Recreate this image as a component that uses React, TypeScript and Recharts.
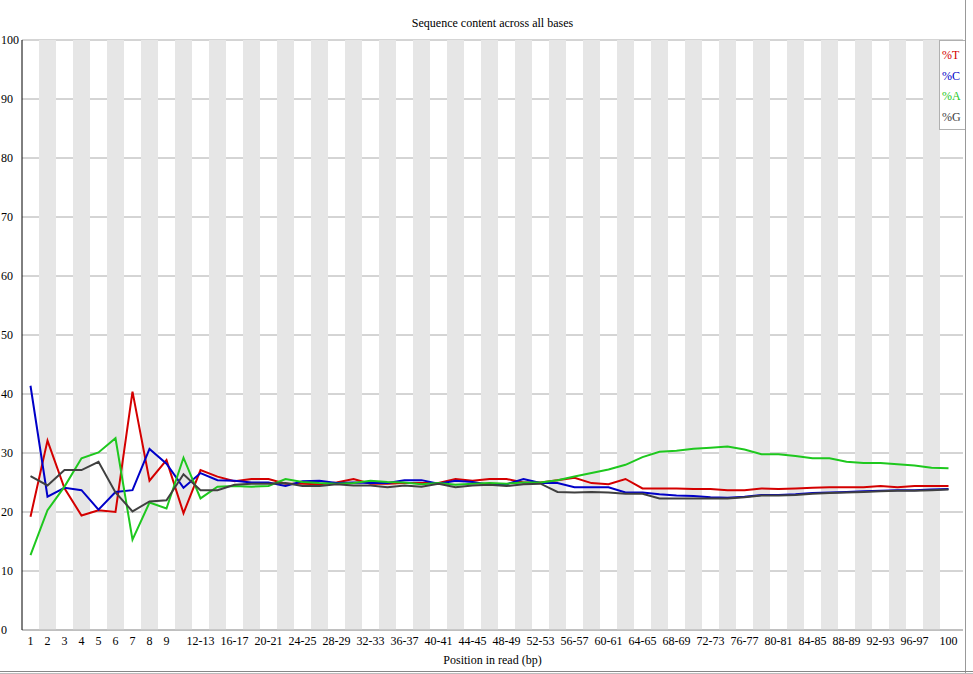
import { LineChart, Line, XAxis, YAxis, CartesianGrid, ReferenceArea, Legend } from "recharts";

const positions = [
  "1", "2", "3", "4", "5", "6", "7", "8", "9",
  "10-11", "12-13", "14-15", "16-17", "18-19", "20-21", "22-23", "24-25", "26-27", "28-29",
  "30-31", "32-33", "34-35", "36-37", "38-39", "40-41", "42-43", "44-45", "46-47", "48-49",
  "50-51", "52-53", "54-55", "56-57", "58-59", "60-61", "62-63", "64-65", "66-67", "68-69",
  "70-71", "72-73", "74-75", "76-77", "78-79", "80-81", "82-83", "84-85", "86-87", "88-89",
  "90-91", "92-93", "94-95", "96-97", "98-99", "100",
];

const pctT = [
  19.2, 32.1, 24.0, 19.4, 20.3, 20.0, 40.4, 25.3, 28.8, 19.8,
  27.1, 26.0, 25.2, 25.6, 25.6, 24.8, 24.8, 24.7, 25.0, 25.6,
  24.8, 24.8, 24.9, 24.9, 24.9, 25.6, 25.3, 25.6, 25.6, 25.0,
  25.0, 25.4, 25.8, 24.9, 24.7, 25.6, 24.0, 24.0, 24.0, 23.9,
  23.9, 23.7, 23.7, 24.0, 23.9, 24.0, 24.1, 24.2, 24.2, 24.2,
  24.4, 24.2, 24.4, 24.4, 24.4,
];

const pctC = [
  41.4, 22.6, 24.1, 23.7, 20.4, 23.4, 23.7, 30.7, 28.2, 24.1,
  26.6, 25.4, 25.3, 25.0, 25.0, 24.4, 25.2, 25.3, 24.9, 25.0,
  24.9, 24.9, 25.4, 25.4, 24.8, 25.3, 25.1, 24.6, 24.7, 25.6,
  24.9, 24.9, 24.2, 24.2, 24.2, 23.3, 23.3, 23.0, 22.8, 22.7,
  22.5, 22.4, 22.6, 22.9, 22.9, 23.0, 23.2, 23.3, 23.4, 23.5,
  23.6, 23.7, 23.7, 23.8, 23.9,
];

const pctA = [
  12.7, 20.3, 24.3, 29.1, 30.1, 32.5, 15.3, 21.6, 20.6, 29.2,
  22.3, 24.3, 24.4, 24.3, 24.4, 25.6, 25.1, 24.9, 24.8, 24.9,
  25.3, 25.1, 25.0, 24.7, 24.9, 24.6, 24.8, 24.9, 24.8, 25.0,
  25.0, 25.4, 26.0, 26.6, 27.2, 28.0, 29.3, 30.2, 30.4, 30.7,
  30.9, 31.1, 30.6, 29.8, 29.8, 29.5, 29.1, 29.1, 28.5, 28.3,
  28.3, 28.1, 27.9, 27.5, 27.4,
];

const pctG = [
  26.1, 24.5, 27.1, 27.1, 28.5, 23.3, 20.1, 21.8, 22.0, 26.4,
  23.7, 23.7, 24.6, 24.8, 24.8, 24.9, 24.4, 24.4, 24.7, 24.5,
  24.5, 24.2, 24.5, 24.3, 24.8, 24.2, 24.5, 24.6, 24.4, 24.7,
  24.8, 23.4, 23.3, 23.4, 23.3, 23.1, 23.1, 22.3, 22.3, 22.3,
  22.3, 22.3, 22.5, 22.8, 22.8, 22.9, 23.1, 23.2, 23.3, 23.4,
  23.5, 23.6, 23.6, 23.7, 23.8,
];

const yTicks = [0, 10, 20, 30, 40, 50, 60, 70, 80, 90, 100];

const series = [
  { key: "T", name: "%T", color: "#d40000" },
  { key: "C", name: "%C", color: "#0000c8" },
  { key: "A", name: "%A", color: "#1ec81e" },
  { key: "G", name: "%G", color: "#404040" },
];

const data = positions.map((p, i) => ({
  pos: p,
  T: pctT[i],
  C: pctC[i],
  A: pctA[i],
  G: pctG[i],
}));

const FONT = "'Liberation Serif', 'DejaVu Serif', serif";

function XTick(props: any) {
  const { x, y, payload, index } = props;
  if (!(index < 9 || index % 2 === 0)) return null;
  return (
    <text x={x} y={y} dy={7} textAnchor="middle" fontSize={12} fontFamily={FONT} fill="#000">
      {payload.value}
    </text>
  );
}

function YTick(props: any) {
  const { y, payload } = props;
  return (
    <text x={1} y={y} dy={4} textAnchor="start" fontSize={12} fontFamily={FONT} fill="#000">
      {payload.value}
    </text>
  );
}

// legend keeps the series order (T, C, A, G)
function LegendBox() {
  return (
    <div
      style={{
        border: "1px solid #b0b0b0",
        background: "#fff",
        width: 23,
        padding: "4px 0 2px 2px",
        fontFamily: FONT,
        fontSize: 12,
        lineHeight: "20.5px",
      }}
    >
      {series.map((s) => (
        <div key={s.key} style={{ color: s.color }}>
          {s.name}
        </div>
      ))}
    </div>
  );
}

export default function App() {
  return (
    <div
      style={{
        position: "absolute",
        left: 0,
        top: 0,
        width: 973,
        height: 674,
        background: "#fff",
        fontFamily: FONT,
        overflow: "hidden",
      }}
    >
      <div
        style={{
          position: "absolute",
          top: 16,
          left: 0,
          width: 985,
          textAlign: "center",
          fontSize: 12,
        }}
      >
        Sequence content across all bases
      </div>
      <LineChart
        width={973}
        height={674}
        data={data}
        margin={{ top: 40, right: 10, bottom: 0, left: 0 }}
      >
        {positions
          .filter((_, i) => i % 2 === 1)
          .map((p) => (
            <ReferenceArea
              key={p}
              x1={p}
              x2={p}
              y1={0}
              y2={100}
              fill="#e6e6e6"
              fillOpacity={1}
              stroke="none"
              ifOverflow="visible"
            />
          ))}
        <CartesianGrid vertical={false} stroke="#aaaaaa" />
        <XAxis
          dataKey="pos"
          scale="band"
          interval={0}
          height={44}
          padding={{ left: 0, right: 6 }}
          tickLine={false}
          axisLine={{ stroke: "#aaaaaa" }}
          tick={<XTick />}
        />
        <YAxis
          width={22}
          domain={[0, 100]}
          ticks={yTicks}
          interval={0}
          tickLine={false}
          axisLine={{ stroke: "#000" }}
          tick={<YTick />}
        />
        <Legend
          layout="horizontal"
          verticalAlign="middle"
          align="center"
          wrapperStyle={{ left: 939, top: 40, width: 26 }}
          content={<LegendBox />}
        />
        {series.map((s) => (
          <Line
            key={s.key}
            type="linear"
            dataKey={s.key}
            name={s.name}
            stroke={s.color}
            strokeWidth={2}
            dot={false}
            activeDot={false}
            isAnimationActive={false}
          />
        ))}
      </LineChart>
      <div
        style={{
          position: "absolute",
          top: 653,
          left: 0,
          width: 985,
          textAlign: "center",
          fontSize: 12,
        }}
      >
        Position in read (bp)
      </div>
      <div style={{ position: "absolute", left: 965, top: 0, width: 1, height: 674, background: "#999" }} />
      <div style={{ position: "absolute", left: 0, top: 671, width: 973, height: 1, background: "#888" }} />
      <div style={{ position: "absolute", left: 0, top: 673, width: 973, height: 1, background: "#bbb" }} />
    </div>
  );
}
